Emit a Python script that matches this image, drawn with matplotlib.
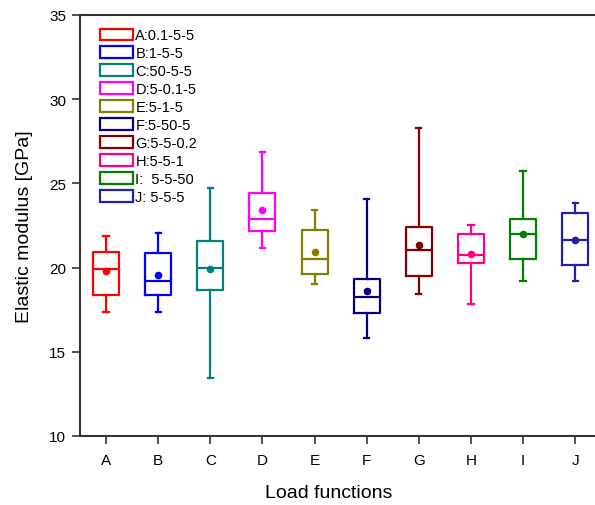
import matplotlib.pyplot as plt
from matplotlib.patches import Patch

plt.rcParams['font.family'] = ['Liberation Sans', 'DejaVu Sans']

# Data
labels = ['A', 'B', 'C', 'D', 'E', 'F', 'G', 'H', 'I', 'J']
legend_names = ['A:0.1-5-5', 'B:1-5-5', 'C:50-5-5', 'D:5-0.1-5', 'E:5-1-5',
                'F:5-50-5', 'G:5-5-0.2', 'H:5-5-1', 'I:  5-5-50', 'J: 5-5-5']
whis_lo = [17.39, 17.35, 13.46, 21.14, 19.01, 15.79, 18.42, 17.83, 19.21, 19.21]
q1 = [18.36, 18.36, 18.66, 22.17, 19.64, 17.33, 19.50, 20.30, 20.49, 20.18]
median = [19.94, 19.21, 20.00, 22.86, 20.53, 18.28, 21.04, 20.73, 21.97, 21.64]
q3 = [20.92, 20.85, 21.58, 24.40, 22.23, 19.35, 22.43, 21.97, 22.86, 23.22]
whis_hi = [21.87, 22.07, 24.70, 26.87, 23.44, 24.09, 28.29, 22.50, 25.72, 23.85]
mean = [19.80, 19.54, 19.90, 23.44, 20.95, 18.58, 21.32, 20.79, 21.97, 21.64]
colors = ['#FF0000', '#0000FF', '#008080', '#FF00FF', '#808000',
          '#000080', '#800000', '#FF0080', '#008000', '#2020A8']

stats = []
for i in range(len(labels)):
    stats.append(dict(label=labels[i], whislo=whis_lo[i], q1=q1[i], med=median[i],
                      q3=q3[i], whishi=whis_hi[i], mean=mean[i], fliers=[]))

fig = plt.figure(figsize=(5.95, 5.06), dpi=100)
ax = fig.add_axes([0.1345, 0.1364, 0.876, 0.832])

positions = list(range(1, len(labels) + 1))
bp = ax.bxp(stats, positions=positions, widths=0.5, showmeans=True, showfliers=False,
            patch_artist=False)
for i, c in enumerate(colors):
    bp['boxes'][i].set(color=c, linewidth=1.6)
    bp['medians'][i].set(color=c, linewidth=1.6)
    for j in (2 * i, 2 * i + 1):
        bp['whiskers'][j].set(color=c, linewidth=1.6)
        bp['caps'][j].set(color=c, linewidth=1.6, xdata=[positions[i] - 0.05, positions[i] + 0.05])
    bp['means'][i].set(marker='o', markerfacecolor=c, markeredgecolor=c, markersize=4.5)

ax.set_xlim(0.5, 10.5)
ax.set_ylim(10, 35)
ax.set_yticks([10, 15, 20, 25, 30, 35])
ax.set_xticks(positions)
ax.set_xticklabels(labels)
ax.tick_params(direction='out', length=6, width=1.2, color='#333333', labelsize=11,
               pad=4, top=False, right=False)
ax.tick_params(axis='x', pad=6)
for s in ax.spines.values():
    s.set_linewidth(1.5)
    s.set_color('#333333')

ax.set_xlabel('Load functions', fontsize=14)
ax.set_ylabel('Elastic modulus [GPa]', fontsize=14)
ax.xaxis.set_label_coords((329 - 80) / 521.0, -0.115)
ax.yaxis.set_label_coords(-0.09, 0.5)

handles = [Patch(facecolor='white', edgecolor=c, linewidth=1.6) for c in colors]
ax.legend(handles, legend_names, loc='upper left', frameon=False, fontsize=10.5,
          handlelength=2.2, handleheight=0.85, handletextpad=0.2, labelspacing=0.27,
          borderaxespad=0.0, bbox_to_anchor=(0.028, 0.982))

fig.savefig('out.png', dpi=100)
